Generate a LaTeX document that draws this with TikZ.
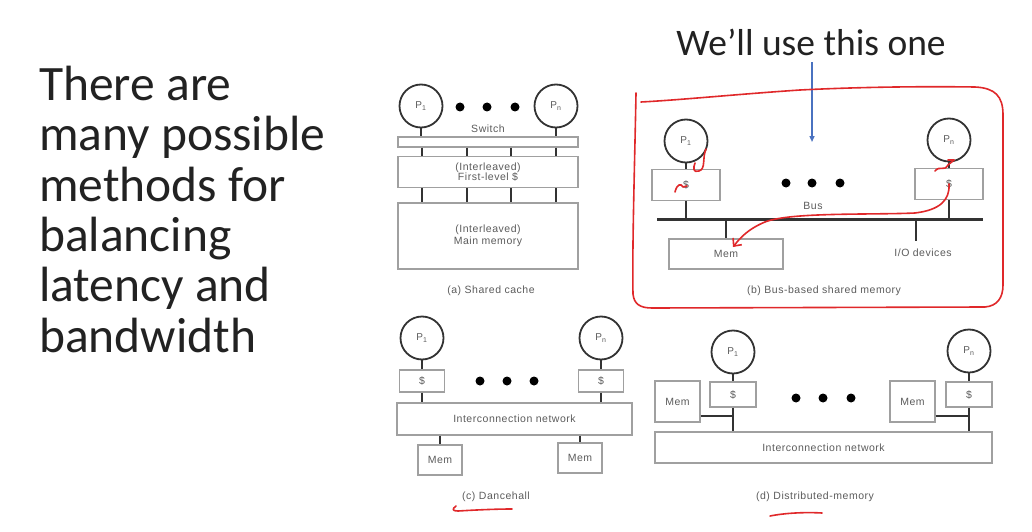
\documentclass[tikz,border=0pt]{standalone}
\usepackage{fontspec}
\setmainfont{Carlito}
\newfontfamily\figfont{Liberation Sans}[LetterSpace=5]
\usetikzlibrary{arrows.meta}
\definecolor{ink}{HTML}{333333}
\definecolor{boxgray}{HTML}{A0A0A0}
\definecolor{labgray}{HTML}{5C5C5C}
\definecolor{penred}{HTML}{E0282A}
\definecolor{penblue}{HTML}{4A72C0}
\definecolor{slidetext}{HTML}{222222}
\begin{document}
\begin{tikzpicture}[x=1pt,y=-1pt,
  lab/.style={font=\figfont\fontsize{10.5}{12}\selectfont, text=labgray, inner sep=0pt},
  proc/.style={circle, draw=ink, line width=1.8pt, minimum size=43pt, inner sep=0pt,
               font=\figfont\fontsize{10}{12}\selectfont, text=labgray},
  box/.style={rectangle, draw=boxgray, line width=1.3pt, inner sep=0pt,
              font=\figfont\fontsize{10.5}{12}\selectfont, text=labgray, align=center},
  wire/.style={draw=ink, line width=2.2pt},
  busline/.style={draw=ink, line width=3pt},
  dot/.style={circle, fill=black, minimum size=9pt, inner sep=0pt},
  redpen/.style={draw=penred, line width=1.6pt, line cap=round, line join=round},
  bluepen/.style={draw=penblue, line width=1.4pt}]
\useasboundingbox (0,0) rectangle (1032,532);
\fill[white] (0,0) rectangle (1032,532);

% slide text
\node[anchor=north west, inner sep=0pt, align=left, text=slidetext,
      font=\fontsize{49.5}{50.3}\selectfont] (intro) at (39,66)
  {There are\\many possible\\methods for\\balancing\\latency and\\bandwidth};
\node[anchor=base, inner sep=0pt, text=slidetext, font=\fontsize{37.5}{40}\selectfont]
  (title) at (811,56) {We’ll use this one};

% (a) shared cache
\node[proc] (a1) at (421,106) {P\textsubscript{1}};
\node[proc] (an) at (556,106) {P\textsubscript{n}};
\node[dot] (ad1) at (460,107) {};
\node[dot] (ad2) at (487,107) {};
\node[dot] (ad3) at (515,107) {};
\node[lab] (aswlab) at (488,129) {Switch};
\node[box, minimum width=180pt, minimum height=10pt] (asw) at (488,142) {};
\node[box, minimum width=180pt, minimum height=31pt, font=\figfont\fontsize{10.5}{10}\selectfont]
  (al1) at (488,172) {(Interleaved)\\First-level \$};
\node[box, minimum width=180pt, minimum height=66pt] (amm) at (488,236)
  {(Interleaved)\\Main memory};
\node[lab] (acap) at (491,291) {(a) Shared cache};
\coordinate (ax1) at (422,0);
\coordinate (ax2) at (467,0);
\coordinate (ax3) at (511,0);
\coordinate (ax4) at (556,0);
\draw[wire] (a1.south) -- (asw.north -| a1.south);
\draw[wire] (an.south) -- (asw.north -| an.south);
\foreach \c in {ax1,ax2,ax3,ax4} {
  \draw[wire, line width=1.8pt] (asw.south -| \c) -- (al1.north -| \c);
  \draw[wire, line width=2.6pt] (al1.south -| \c) -- (amm.north -| \c);
}

% (b) bus-based shared memory
\node[proc] (b1) at (686,141) {P\textsubscript{1}};
\node[proc] (bn) at (949,140) {P\textsubscript{n}};
\node[box, minimum width=68pt, minimum height=31pt] (bc1) at (686,185) {\$};
\node[box, minimum width=68pt, minimum height=31pt] (bcn) at (949,184) {\$};
\node[dot] (bd1) at (786,183) {};
\node[dot] (bd2) at (812,183) {};
\node[dot] (bd3) at (840,183) {};
\coordinate (busl) at (657,219);
\coordinate (busr) at (983,219);
\node[lab] (buslab) at (813,206) {Bus};
\node[box, minimum width=114pt, minimum height=30pt] (bmem) at (726,254) {Mem};
\coordinate (iotop) at (916,241);
\node[lab] (bio) at (923,253) {I/O devices};
\node[lab] (bcap) at (824,291) {(b) Bus-based shared memory};
\draw[busline] (busl) -- (busr);
\draw[wire] (b1.south) -- (bc1.north);
\draw[wire] (bn.south) -- (bcn.north);
\draw[wire] (bc1.south) -- (bc1.south |- busl);
\draw[wire] (bcn.south) -- (bcn.south |- busl);
\draw[wire] (bmem.north |- busl) -- (bmem.north);
\draw[wire] (iotop |- busl) -- (iotop);

% (c) dancehall
\node[proc] (c1) at (422,338) {P\textsubscript{1}};
\node[proc] (cn) at (601,338) {P\textsubscript{n}};
\node[box, minimum width=45pt, minimum height=22pt] (cc1) at (422,381) {\$};
\node[box, minimum width=45pt, minimum height=22pt] (ccn) at (601,381) {\$};
\node[dot] (cd1) at (480,381) {};
\node[dot] (cd2) at (507,381) {};
\node[dot] (cd3) at (534,381) {};
\node[box, minimum width=235pt, minimum height=32pt] (cnet) at (514.5,419)
  {Interconnection network};
\node[box, minimum width=44pt, minimum height=30pt] (cm1) at (440,460) {Mem};
\node[box, minimum width=44pt, minimum height=30pt] (cm2) at (580,458) {Mem};
\node[lab] (ccap) at (496,497) {(c) Dancehall};
\draw[wire] (c1.south) -- (cc1.north);
\draw[wire] (cn.south) -- (ccn.north);
\draw[wire] (cc1.south) -- (cnet.north -| cc1.south);
\draw[wire] (ccn.south) -- (cnet.north -| ccn.south);
\draw[wire] (cnet.south -| cm1.north) -- (cm1.north);
\draw[wire] (cnet.south -| cm2.north) -- (cm2.north);

% (d) distributed memory
\node[proc] (d1) at (733,352) {P\textsubscript{1}};
\node[proc] (dn) at (969,351) {P\textsubscript{n}};
\node[box, minimum width=46pt, minimum height=25pt] (dc1) at (733,394.5) {\$};
\node[box, minimum width=46pt, minimum height=25pt] (dcn) at (969,394.5) {\$};
\node[box, minimum width=45pt, minimum height=41pt] (dm1) at (677.5,401.5) {Mem};
\node[box, minimum width=45pt, minimum height=41pt] (dm2) at (912.5,401.5) {Mem};
\node[dot] (dd1) at (796,398) {};
\node[dot] (dd2) at (823,398) {};
\node[dot] (dd3) at (851,398) {};
\node[box, minimum width=337pt, minimum height=31pt] (dnet) at (823.5,447.5)
  {Interconnection network};
\node[lab] (dcap) at (815,497) {(d) Distributed-memory};
\coordinate (dj1) at (733,416);
\coordinate (djn) at (969,416);
\draw[wire] (d1.south) -- (dc1.north);
\draw[wire] (dn.south) -- (dcn.north);
\draw[wire] (dc1.south) -- (dnet.north -| dc1.south);
\draw[wire] (dcn.south) -- (dnet.north -| dcn.south);
\draw[wire] (dm1.east |- dj1) -- (dj1);
\draw[wire] (dm2.east |- djn) -- (djn);

% pen annotations
\coordinate (bluetip) at (812,142);
\draw[bluepen, shorten <=6pt, -{Triangle[length=6pt,width=5pt]}] (title.south -| bluetip) -- (bluetip);
\draw[redpen] (636,93) .. controls (635,150) and (632,250) .. (633,294)
  .. controls (634,304) and (640,308) .. (652,308) -- (985,307)
  .. controls (997,306) and (1003,298) .. (1003,285) -- (1003,115)
  .. controls (1003,96) and (995,88) .. (975,87)
  .. controls (900,86) and (840,88) .. (800,90)
  .. controls (740,94) and (680,100) .. (641,102);
\draw[redpen, -{Straight Barb[length=6pt,width=11pt]}] (bcn.center)
  .. controls (950,200) and (940,210) .. (915,213)
  .. controls (870,215) and (790,212) .. (765,222)
  .. controls (748,229) and (740,238) .. (733,247);
\draw[redpen] (706,149) .. controls (702,158) and (706,169) .. (699,171)
  .. controls (693,173) and (693,168) .. (695,163);
\draw[redpen] (675,192) .. controls (677,184) and (681,183) .. (683,187) -- (687,186);
\draw[redpen] (935,171) .. controls (940,165) and (944,172) .. (948,165) -- (954,160);
\draw[redpen] (954,160) -- (948,160);
\draw[redpen] (456,506) .. controls (452,509) and (452,511) .. (458,511)
  .. controls (475,510) and (495,509) .. (512,509);
\draw[redpen] (770,516) .. controls (785,513) and (805,512) .. (822,513);
\end{tikzpicture}
\end{document}
